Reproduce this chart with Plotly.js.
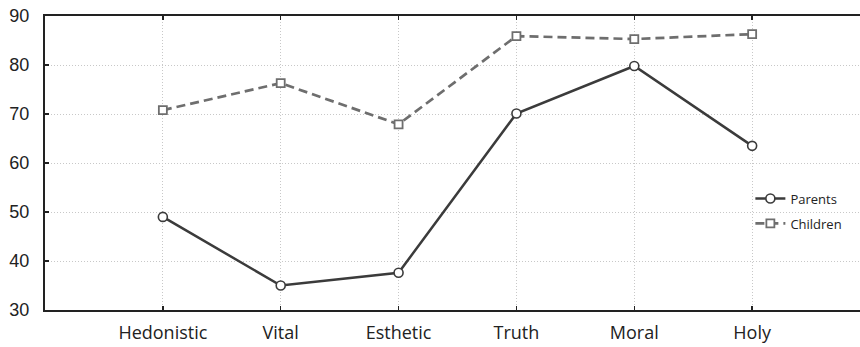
<!DOCTYPE html>
<html>
<head>
<meta charset="utf-8">
<script src="https://cdn.plot.ly/plotly-3.0.1.min.js"></script>
<style>html,body{margin:0;padding:0;overflow:hidden;background:#fff;}#chart{width:880px;height:347px;}</style>
</head>
<body>
<div id="chart"></div>
<script>
const categories = ["Hedonistic", "Vital", "Esthetic", "Truth", "Moral", "Holy"];
const parents = [49.0, 35.0, 37.6, 70.1, 79.8, 63.5];
const children = [70.8, 76.3, 67.9, 85.9, 85.3, 86.3];
const seriesNames = ["Parents", "Children"];
const yTicks = [30, 40, 50, 60, 70, 80, 90];

const traces = [
  {
    x: categories, y: parents, name: seriesNames[0], type: "scatter", mode: "lines+markers",
    legendgroup: "a",
    line: {color: "#3b3b3b", width: 2.5},
    marker: {symbol: "circle", size: 9, color: "#ffffff", line: {color: "#3b3b3b", width: 1.6}}
  },
  {
    x: categories, y: children, name: seriesNames[1], type: "scatter", mode: "lines+markers",
    legendgroup: "b",
    line: {color: "#6e6e6e", width: 2.7, dash: "9px,5px"},
    marker: {symbol: "square", size: 8, color: "#ffffff", line: {color: "#6e6e6e", width: 1.8}}
  }
];

const layout = {
  width: 880, height: 347,
  margin: {l: 45, r: 10, t: 16, b: 37},
  paper_bgcolor: "#ffffff", plot_bgcolor: "#ffffff",
  showlegend: true,
  legend: {
    x: 0.855, xanchor: "left", y: 0.43, yanchor: "top",
    bgcolor: "rgba(0,0,0,0)", borderwidth: 0,
    font: {family: "Open Sans, sans-serif", size: 13, color: "#222"},
    tracegroupgap: 5, itemwidth: 30
  },
  xaxis: {
    type: "category", range: [-1, 6],
    showline: true, linecolor: "#222", linewidth: 2, mirror: "ticks",
    ticks: "inside", ticklen: 4, tickwidth: 1.5, tickcolor: "#222",
    showgrid: true, gridcolor: "#c8c8c8", gridwidth: 1, griddash: "1px,2px",
    tickfont: {family: "Open Sans, sans-serif", size: 18, color: "#222"},
    ticklabelstandoff: 5,
    zeroline: false, fixedrange: true
  },
  yaxis: {
    range: [30, 90], tickvals: yTicks, ticktext: yTicks.map(String),
    showline: true, linecolor: "#222", linewidth: 2, mirror: "ticks",
    ticks: "inside", ticklen: 4, tickwidth: 1.5, tickcolor: "#222",
    showgrid: true, gridcolor: "#c8c8c8", gridwidth: 1, griddash: "1px,2px",
    tickfont: {family: "Liberation Sans, Arial, sans-serif", size: 18, color: "#222"},
    ticklabelstandoff: 10,
    zeroline: false, fixedrange: true
  }
};

Plotly.newPlot("chart", traces, layout, {staticPlot: true, displayModeBar: false});
</script>
</body>
</html>
